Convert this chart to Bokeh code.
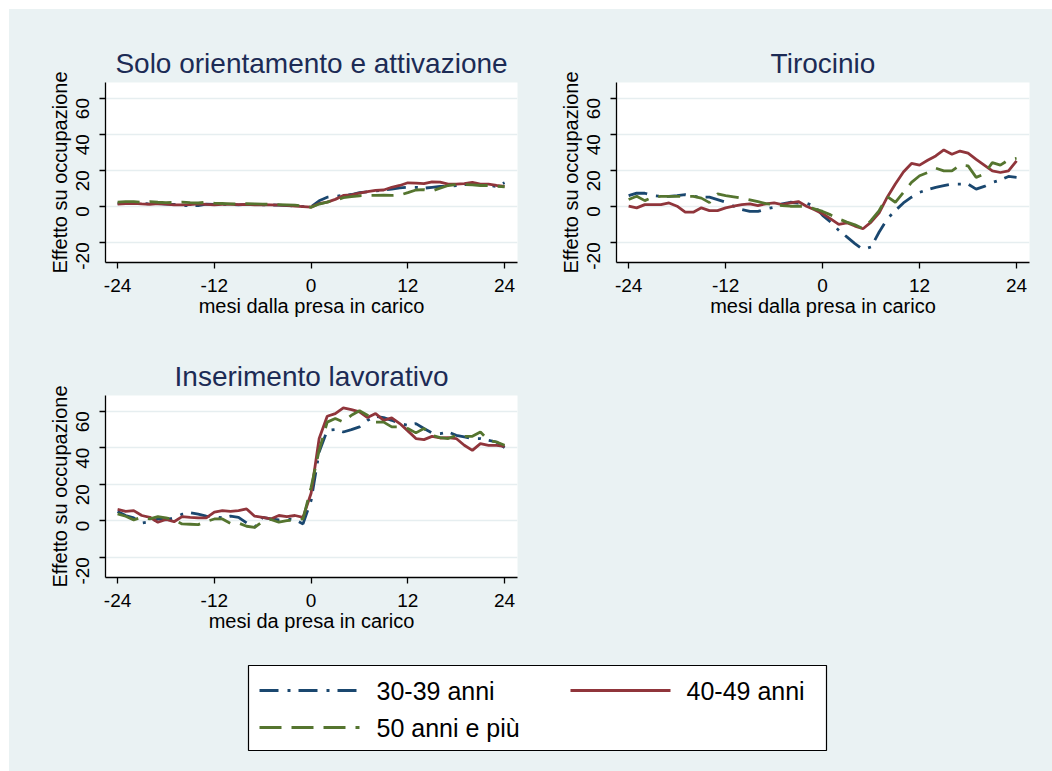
import math
from bokeh.plotting import figure
from bokeh.models import Range1d, FixedTicker, Spacer
from bokeh.layouts import row, column
from bokeh.embed import file_html
from bokeh.resources import INLINE
from bokeh.core.properties import value

# ---------------- data ----------------
months = list(range(-24, 25))
series_names = ["30-39 anni", "40-49 anni", "50 anni e più"]
panel_titles = ["Solo orientamento e attivazione", "Tirocinio", "Inserimento lavorativo"]
x_labels = ["mesi dalla presa in carico", "mesi dalla presa in carico", "mesi da presa in carico"]
y_label = "Effetto su occupazione"
x_ticks = [-24, -12, 0, 12, 24]
y_ticks = [-20, 0, 20, 40, 60]

# Solo orientamento e attivazione
orient_30_39 = [1.5, 1.8, 1.8, 1.5, 1.3, 1.5, 1.2, 1.0, 0.5, 0.2, 0.4, 1.2, 1.0, 1.0, 1.0, 0.8, 1.0, 1.0, 0.8, 0.7, 0.6, 0.3, 0.2, -0.2,
                -0.3, 3.0, 5.0, 5.5, 6.0, 6.5, 7.5, 8.0, 8.5, 9.0, 9.5, 10.2, 10.5, 10.5, 10.0, 10.5, 11.0, 11.0, 11.5, 12.0, 12.0, 12.0, 11.5, 11.0, 13.0]
orient_40_49 = [1.2, 1.5, 1.6, 1.3, 1.1, 1.5, 1.2, 0.8, 0.7, 0.9, 1.3, 1.0, 0.8, 1.0, 1.1, 0.9, 1.0, 0.8, 0.9, 0.8, 0.6, 0.5, 0.1, -0.2,
                -0.5, 1.5, 2.3, 3.8, 6.0, 6.3, 7.2, 8.1, 8.8, 9.0, 10.5, 11.5, 13.0, 12.8, 12.5, 13.5, 13.4, 12.3, 12.2, 12.5, 13.2, 12.3, 12.2, 11.5, 11.0]
orient_50_plus = [2.3, 2.5, 2.6, 2.2, 2.5, 2.2, 2.0, 2.1, 2.3, 2.0, 1.8, 2.2, 1.7, 1.5, 1.3, 1.2, 1.4, 1.3, 1.2, 1.0, 0.9, 0.8, 0.6, 0.2,
                  -0.6, 1.2, 2.3, 3.2, 4.8, 5.3, 5.8, 6.0, 6.0, 6.2, 6.0, 6.2, 7.5, 9.0, 9.2, 8.5, 10.0, 11.5, 12.0, 12.0, 11.8, 11.5, 11.5, 11.0, 10.8]

# Tirocinio
tiro_30_39 = [5.9, 7.3, 7.2, 5.9, 5.5, 5.5, 5.9, 6.4, 5.5, 5.0, 5.0, 3.7, 2.2, 0.0, -1.8, -2.9, -2.9, -1.5, -0.6, 1.3, 2.2, 1.8, 1.7, 0.0,
              -5.1, -8.8, -13.4, -17.0, -20.7, -24.0, -22.6, -14.3, -7.0, -2.4, 1.8, 5.0, 7.7, 9.2, 10.5, 11.4, 12.3, 12.3, 12.3, 9.5, 11.0, 13.2, 14.5, 16.5, 16.0]
tiro_40_49 = [0.0, -0.9, 0.9, 0.9, 0.9, 1.8, 0.0, -3.3, -3.3, -0.9, -2.4, -2.4, -0.9, 0.0, 0.9, 1.3, 0.4, 1.3, 1.8, 0.9, 1.8, 2.6, 0.0, -2.0,
              -4.2, -7.0, -10.1, -9.2, -11.0, -12.5, -8.8, -3.7, 5.0, 12.3, 19.0, 23.7, 22.8, 25.5, 27.9, 31.2, 28.8, 30.6, 29.4, 26.0, 22.8, 19.6, 18.7, 19.6, 25.1]
tiro_50_plus = [3.7, 5.5, 3.1, 5.0, 5.5, 5.5, 5.5, 5.5, 5.5, 4.5, 2.0, 6.8, 5.9, 5.2, 4.4, 3.5, 2.5, 1.5, 0.8, 0.3, 0.0, 0.0, 0.0, -1.5,
                -2.9, -4.8, -7.0, -8.8, -10.3, -12.5, -7.9, -2.4, 5.3, 2.2, 7.7, 13.2, 16.9, 18.7, 21.1, 19.6, 19.6, 22.8, 22.4, 16.0, 17.8, 24.2, 22.8, 25.7, 26.6]

# Inserimento lavorativo
ins_30_39 = [5.0, 2.8, 1.5, -1.3, -0.6, 0.9, 0.4, 1.5, 3.5, 4.3, 3.5, 2.5, 2.2, 1.5, 2.4, 1.8, -1.3, -3.7, 1.8, 0.9, 0.4, 0.9, 0.4, -1.8,
             11.0, 37.6, 49.5, 49.9, 48.6, 49.9, 51.4, 55.0, 57.2, 56.5, 55.0, 53.2, 52.3, 53.2, 50.5, 48.1, 47.7, 48.6, 46.8, 45.9, 45.0, 45.0, 44.0, 43.1, 40.0]
ins_40_49 = [6.1, 5.1, 5.5, 2.8, 1.8, -0.9, 0.6, -0.6, 2.2, 1.8, 1.5, 1.5, 4.6, 5.5, 5.1, 5.5, 6.4, 2.4, 1.8, 0.9, 2.8, 2.2, 2.8, 1.8,
             15.0, 45.0, 57.2, 58.7, 61.8, 60.9, 59.6, 56.5, 58.7, 55.0, 56.3, 53.2, 49.2, 45.0, 44.4, 46.2, 45.3, 45.5, 45.0, 41.3, 38.5, 42.2, 41.3, 41.3, 40.7]
ins_50_plus = [3.7, 2.4, 0.4, 1.8, 0.9, 2.2, 1.5, 0.4, -1.8, -2.0, -2.2, -0.5, 0.9, 0.9, -1.5, -1.3, -3.1, -3.7, -0.5, 0.6, -0.9, 0.0, 0.4, 0.9,
               18.3, 38.5, 54.0, 56.0, 54.0, 57.8, 60.2, 57.8, 54.0, 54.0, 51.4, 51.4, 50.5, 48.1, 50.5, 46.8, 45.5, 45.0, 46.8, 46.2, 46.2, 48.6, 44.0, 43.1, 41.3]

panel_data = [
    [orient_30_39, orient_40_49, orient_50_plus],
    [tiro_30_39, tiro_40_49, tiro_50_plus],
    [ins_30_39, ins_40_49, ins_50_plus],
]

# ---------------- style ----------------
BG = "#eaf2f3"
COLORS = ["#1a476f", "#90353b", "#55752f"]
DASHES = ["19 9 3 8", "solid", "22 10"]
FONT = "Liberation Sans"
LW = 2.8


def make_panel(idx, width, height, left, right, top, bottom):
    p = figure(width=width, height=height,
               x_range=Range1d(-25.5, 25.6), y_range=Range1d(-31.2, 68.6),
               output_backend="svg", toolbar_location=None,
               min_border_left=left, min_border_right=right,
               min_border_top=top, min_border_bottom=bottom)
    p.background_fill_color = "white"
    p.border_fill_color = BG
    p.outline_line_color = None

    p.title.text = panel_titles[idx]
    p.title.align = "center"
    p.title.text_font = FONT
    p.title.text_font_size = "28px"
    p.title.text_font_style = "normal"
    p.title.text_color = "#1c2b55"
    p.title.standoff = 7

    p.xaxis.ticker = FixedTicker(ticks=x_ticks)
    p.yaxis.ticker = FixedTicker(ticks=y_ticks)
    p.xaxis.major_label_overrides = {t: str(t) for t in x_ticks}
    p.yaxis.major_label_overrides = {t: str(t) for t in y_ticks}
    p.xaxis.axis_label = x_labels[idx]
    p.yaxis.axis_label = y_label
    for ax in (p.xaxis, p.yaxis):
        ax.axis_line_color = "black"
        ax.axis_line_width = 1.3
        ax.major_tick_line_color = "black"
        ax.major_tick_line_width = 1.3
        ax.major_tick_out = 6
        ax.major_tick_in = 0
        ax.minor_tick_line_color = None
        ax.major_label_text_font = FONT
        ax.major_label_text_font_size = "19px"
        ax.major_label_text_color = "black"
        ax.axis_label_text_font = FONT
        ax.axis_label_text_font_size = "20px"
        ax.axis_label_text_font_style = "normal"
        ax.axis_label_text_color = "black"
    p.yaxis.major_label_orientation = math.pi / 2
    p.yaxis.major_label_standoff = 17
    p.yaxis.axis_label_standoff = -4
    p.xaxis.major_label_standoff = 10
    p.xaxis.axis_label_standoff = 0

    p.xgrid.visible = False
    p.ygrid.grid_line_color = "#e6eef0"
    p.ygrid.grid_line_width = 1.6

    for s in range(3):
        p.line(months, panel_data[idx][s], line_color=COLORS[s], line_width=LW,
               line_dash=DASHES[s])
    return p


f1 = make_panel(0, 519, 329, 96, 11, 73, 76)
f2 = make_panel(1, 524, 329, 88, 23, 73, 76)
f3 = make_panel(2, 519, 312, 96, 11, 57, 73)

# legend box
leg = figure(width=600, height=121, x_range=Range1d(0, 578), y_range=Range1d(0, 85),
             x_axis_type=None, y_axis_type=None,
             output_backend="svg", toolbar_location=None,
             min_border_left=1, min_border_right=21, min_border_top=15, min_border_bottom=21)
leg.grid.visible = False
leg.background_fill_color = "white"
leg.border_fill_color = BG
leg.outline_line_color = "black"
leg.outline_line_width = 1.2

legend_slots = [(11, 111, 128, 60), (322, 422, 438, 60), (11, 111, 128, 23)]
for s, (x0, x1, tx, ty) in enumerate(legend_slots):
    leg.line([x0, x1], [ty, ty], line_color=COLORS[s], line_width=LW, line_dash=DASHES[s])
    leg.text(x=[tx], y=[ty], text=[series_names[s]], text_baseline="middle", text_align="left",
             text_font=value(FONT), text_font_size="25px", text_color="black")

inner = column(
    row(f1, f2),
    row(f3, Spacer(width=524, height=312)),
    row(Spacer(width=238, height=121), leg),
    styles={"background-color": BG},
)

layout = column(
    Spacer(width=1052, height=9),
    row(Spacer(width=9, height=762), inner),
)

open("out.html", "w").write(file_html(layout, INLINE))
